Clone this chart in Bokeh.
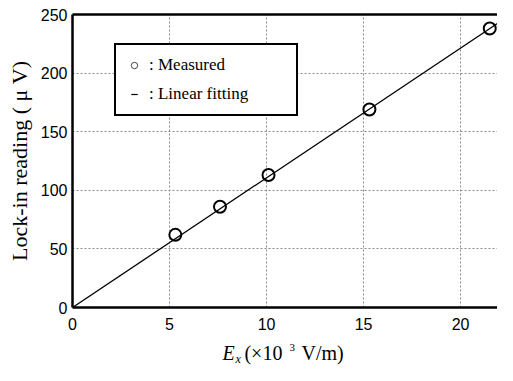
from bokeh.plotting import figure
from bokeh.layouts import column
from bokeh.models import (Legend, LegendItem, LinearAxis, Label, Range1d,
                          FixedTicker)
from bokeh.embed import file_html
from bokeh.resources import INLINE

# ---- data ----
ex_field = [5.3, 7.6, 10.1, 15.3, 21.5]          # E_x (x10^3 V/m)
lockin = [62, 86, 113, 169, 238]                  # Lock-in reading (uV)
fit_x = [0, 21.9]
fit_y = [0, 242.4]
x_ticks = [0, 5, 10, 15, 20]
y_ticks = [0, 50, 100, 150, 200, 250]
legend_labels = [": Measured", ": Linear fitting"]
nan = float("nan")

x_range = Range1d(0, 21.9)
p = figure(width=497, height=340, x_range=x_range, y_range=Range1d(0, 250),
           output_backend="svg", toolbar_location=None,
           min_border_left=72, min_border_right=0, min_border_top=14, min_border_bottom=33)
p.outline_line_color = None
p.background_fill_color = "white"

p.xaxis.ticker = FixedTicker(ticks=x_ticks)
p.yaxis.ticker = FixedTicker(ticks=y_ticks)
p.xgrid.ticker = FixedTicker(ticks=x_ticks)
p.ygrid.ticker = FixedTicker(ticks=y_ticks)
p.grid.grid_line_color = "#8a8a8a"
p.grid.grid_line_dash = "2 2"
p.grid.grid_line_width = 1

for ax in (p.xaxis, p.yaxis):
    ax.axis_line_width = 2.5
    ax.axis_line_color = "black"
    ax.major_tick_line_color = None
    ax.minor_tick_line_color = None
    ax.major_tick_out = 0
    ax.major_tick_in = 0
    ax.major_label_text_font = "Liberation Sans"
    ax.major_label_text_font_size = "16px"
    ax.major_label_text_color = "black"

p.yaxis.major_label_standoff = 5
p.xaxis.major_label_standoff = 10
p.yaxis.axis_label = "Lock-in reading ( \u03bc V)"
p.yaxis.axis_label_text_font = "Liberation Serif"
p.yaxis.axis_label_text_font_size = "22px"
p.yaxis.axis_label_text_font_style = "normal"
p.yaxis.axis_label_text_color = "black"
p.yaxis.axis_label_standoff = 6

top_axis = LinearAxis(ticker=FixedTicker(ticks=[]), axis_line_width=2.5,
                      axis_line_color="black", major_tick_line_color=None,
                      minor_tick_line_color=None, major_tick_out=0,
                      major_label_text_color=None)
p.add_layout(top_axis, "above")

# fit line and measured points
p.line(fit_x, fit_y, line_color="black", line_width=1.3)
p.scatter(ex_field, lockin, marker="circle", size=12, fill_color=None,
          line_color="black", line_width=2)

# legend-only symbol renderers (NaN position: never drawn in the plot area)
leg_circle = p.scatter([nan], [nan], marker="circle", fill_color=None,
                       line_color="#444444", line_width=1)
leg_dash = p.scatter([nan], [nan], marker="dash", line_color="black", line_width=1.2)

legend = Legend(items=[LegendItem(label=legend_labels[0], renderers=[leg_circle]),
                       LegendItem(label=legend_labels[1], renderers=[leg_dash])],
                location=(42, 191), border_line_color="black", border_line_width=2.5,
                border_line_alpha=1, background_fill_color="white", background_fill_alpha=1,
                label_text_font="Liberation Serif", label_text_font_size="17px",
                label_text_color="black", padding=10, spacing=9, label_height=20,
                glyph_height=18, glyph_width=16, label_standoff=7, label_width=137,
                margin=0)
p.add_layout(legend)

# x-axis title strip (italic E, subscript x, superscript 3)
p2 = figure(width=497, height=25, x_range=x_range, y_range=Range1d(0, 25),
            x_axis_type=None, y_axis_type=None, output_backend="svg",
            toolbar_location=None, min_border_left=72, min_border_right=0,
            min_border_top=0, min_border_bottom=0)
p2.outline_line_color = None
p2.grid.visible = False

serif = "Liberation Serif"
p2.add_layout(Label(x=7.73, y=13, text="E", text_font=serif, text_font_size="20px",
                    text_font_style="italic", text_baseline="middle", text_color="black"))
p2.add_layout(Label(x=8.40, y=7, text="x", text_font=serif, text_font_size="12px",
                    text_font_style="italic", text_baseline="middle", text_color="black"))
p2.add_layout(Label(x=8.86, y=13, text="(\u00d710", text_font=serif, text_font_size="20px",
                    text_baseline="middle", text_color="black"))
p2.add_layout(Label(x=11.18, y=18, text="3", text_font=serif, text_font_size="11px",
                    text_baseline="middle", text_color="black"))
p2.add_layout(Label(x=11.80, y=13, text="V/m)", text_font=serif, text_font_size="20px",
                    text_baseline="middle", text_color="black"))

layout = column(p, p2, spacing=0)
open("out.html", "w").write(file_html(layout, INLINE))
